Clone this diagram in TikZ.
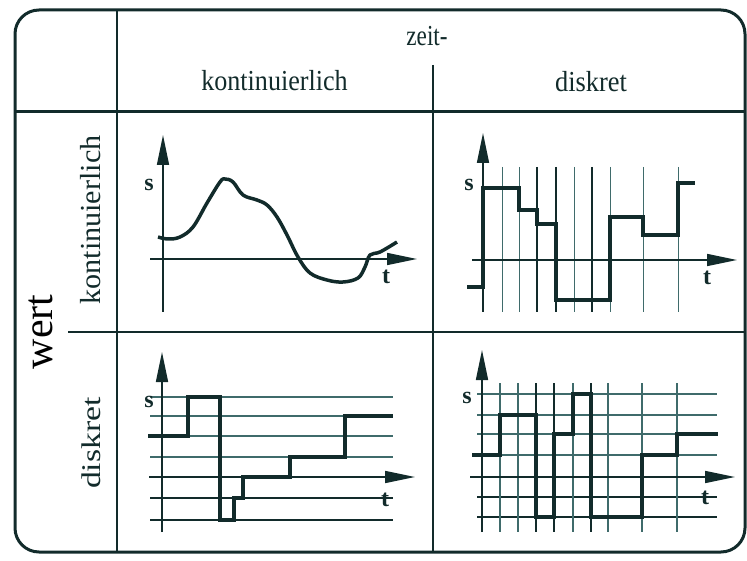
\documentclass[tikz,border=0pt]{standalone}
\usepackage{fontspec}
\setmainfont{Liberation Serif}
\usetikzlibrary{arrows.meta}
\definecolor{ink}{HTML}{122B2B}
\definecolor{thinink}{HTML}{3F6B6B}
\begin{document}
\begin{tikzpicture}[x=1pt,y=-1pt,
  frame/.style={line width=3pt, draw=ink},
  rule/.style={line width=2pt, draw=ink},
  axis/.style={line width=1.6pt, draw=ink, -{Triangle[length=30pt,width=12pt]}},
  gridline/.style={line width=0.9pt, draw=thinink},
  darkgrid/.style={line width=1.8pt, draw=ink},
  sig/.style={line width=3.5pt, draw=ink, line join=miter},
  lab/.style={inner sep=0pt, anchor=base, text=ink},
  axlab/.style={inner sep=0pt, text=ink, font=\fontsize{24}{24}\selectfont\bfseries}
]
\useasboundingbox (0,0) rectangle (747,561);

% frame and table rules
\draw[frame, rounded corners=24pt] (15,10) rectangle (745,552);
\draw[rule] (117,10) -- (117,552);
\draw[rule, line width=3pt] (15,112) -- (745,112);
\draw[rule] (433,65) -- (433,552);
\draw[rule, line width=2.5pt] (68,332) -- (745,332);

% header texts
\node[lab, font=\fontsize{29}{29}\selectfont] (zeit) at (427,46) {\scalebox{0.8}[1]{zeit-}};
\node[lab, font=\fontsize{29}{29}\selectfont] (hk) at (274.5,91) {\scalebox{0.9}[1]{kontinuierlich}};
\node[lab, font=\fontsize{29}{29}\selectfont] (hd) at (591,92) {\scalebox{0.91}[1]{diskret}};
\node[lab, rotate=90, font=\fontsize{29}{29}\selectfont] (vk) at (100,220) {\scalebox{1.04}[1]{kontinuierlich}};
\node[lab, rotate=90, font=\fontsize{27}{27}\selectfont] (vd) at (100,443) {\scalebox{1.25}[1]{diskret}};
\node[lab, rotate=90, font=\fontsize{42}{42}\selectfont, text=black] (wert) at (52,332) {wert};

% ---------- panel 1: continuous value, continuous time
\draw[axis] (163,312) -- (163,135);
\draw[axis] (150,259) -- (417,259);
\node[axlab] (s1) at (149,185) {s};
\node[axlab] (t1) at (386,277) {t};
\draw[sig, line join=round] plot[smooth, tension=0.6] coordinates {
 (158,237) (168,239) (180,237) (193,227) (207,203) (220,182) (225,179)
 (233,182) (243,195) (257,200) (267,205) (277,217) (287,235) (298,257)
 (310,273) (327,280) (343,282) (358,278) (365,267) (370,255) (380,252) (397,242)};

% ---------- panel 2: continuous value, discrete time
\foreach \x in {502,519,574,610,643,678} \draw[gridline] (\x,167) -- (\x,312);
\foreach \x in {537,556,592} \draw[darkgrid] (\x,167) -- (\x,312);
\draw[axis] (483,312) -- (483,133);
\draw[axis] (472,260) -- (737,260);
\node[axlab] (s2) at (469,185) {s};
\node[axlab] (t2) at (707,278) {t};
\draw[sig] (467,287) -- (483,287) -- (483,188) -- (519,188) -- (519,210) -- (537,210)
 -- (537,224) -- (556,224) -- (556,300) -- (610,300) -- (610,217) -- (643,217)
 -- (643,235) -- (678,235) -- (678,183) -- (695,183);

% ---------- panel 3: discrete value, continuous time
\foreach \y in {397,416,436,457} \draw[gridline, line width=1.2pt] (150,\y) -- (393,\y);
\foreach \y in {498,520} \draw[darkgrid, line width=1.5pt] (150,\y) -- (393,\y);
\draw[axis] (162,532) -- (162,352);
\draw[axis] (149,477) -- (415,477);
\node[axlab] (s3) at (149,402) {s};
\node[axlab] (t3) at (385,500) {t};
\draw[sig] (148,436) -- (188,436) -- (188,397) -- (220,397) -- (220,520) -- (234,520)
 -- (234,498) -- (243,498) -- (243,477) -- (290,477) -- (290,457) -- (345,457)
 -- (345,416) -- (393,416);

% ---------- panel 4: discrete value, discrete time
\foreach \y in {394,415,434,455} \draw[gridline, line width=1.2pt] (477,\y) -- (717,\y);
\foreach \y in {497,517} \draw[darkgrid, line width=1.5pt] (477,\y) -- (717,\y);
\foreach \x in {500,518,573,608,642,677} \draw[gridline, line width=1.2pt] (\x,383) -- (\x,532);
\foreach \x in {536,554,591} \draw[darkgrid] (\x,383) -- (\x,532);
\draw[axis] (482,532) -- (482,350);
\draw[axis] (470,477) -- (735,477);
\node[axlab] (s4) at (467,398) {s};
\node[axlab] (t4) at (705,498) {t};
\draw[sig] (472,455) -- (500,455) -- (500,415) -- (536,415) -- (536,517) -- (554,517)
 -- (554,434) -- (573,434) -- (573,394) -- (591,394) -- (591,517) -- (642,517)
 -- (642,455) -- (677,455) -- (677,434) -- (718,434);
\end{tikzpicture}
\end{document}
